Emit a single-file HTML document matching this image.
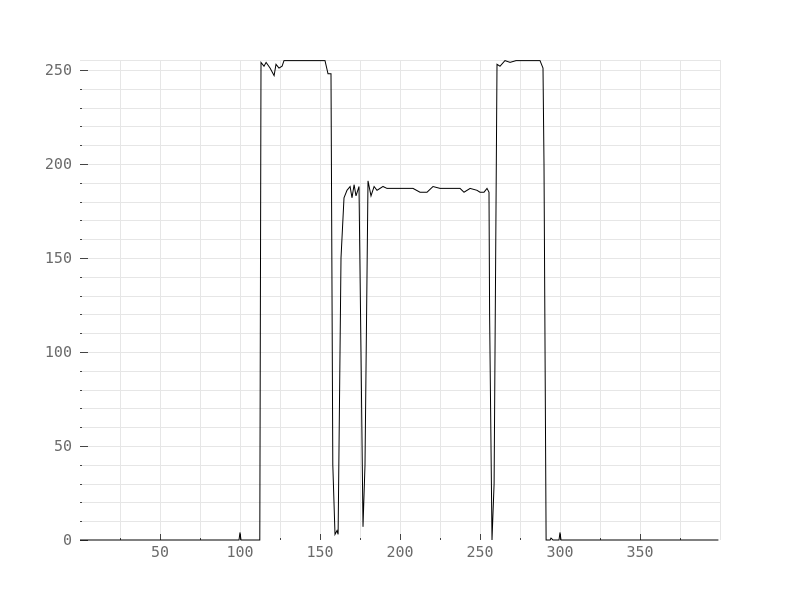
<!DOCTYPE html>
<html><head><meta charset="utf-8"><style>
body{margin:0;background:#fff}
svg text{font-family:"DejaVu Sans Mono","Liberation Mono",monospace;font-size:15px;fill:#6a6a6a}
</style></head><body>
<svg id="chart" width="800" height="600" xmlns="http://www.w3.org/2000/svg">
<g id="grid"></g>
<g id="axes"></g>
<path id="line" fill="none" stroke="#000" stroke-width="1"/>
</svg>
<script>
const xs=[0,99.4,100,100.6,112.4,113.1,115,116.3,118.8,121.3,122.5,124.4,126.3,127.5,153.1,155,156.9,158,159.4,160.6,161.3,163.1,165,166.9,168.8,170,171.3,172.5,174.4,175.6,176.9,178.1,180,181.9,183.8,185.6,189.4,191.9,208.1,212.5,216.9,220.6,225,237.5,240,243.8,248.1,250,252.5,254.4,255.6,256,257.5,258.8,260.6,262.5,265.6,268.8,272.5,287.5,289.4,290,291.3,293.8,294.4,295.6,299.4,300,300.6,399];
const ys=[0,0,4,0,0,254,252,254,251,247,253,251,252,255,255,248,248,40,3,5,3,150,182,186,188,182,189,183,188,100,7,40,191,183,188,186,188,187,187,185,185,188,187,187,185,187,186,185,185,187,185,120,0,30,253,252,255,254,255,255,251,200,0,0,1,0,0,4,0,0];
const xTicks=[50,100,150,200,250,300,350];
const yTicks=[0,50,100,150,200,250];
const X0=80,X1=720,Y0=540,Y1=60,XMAX=400,YMAX=255.3;
const sx=v=>X0+v*(X1-X0)/XMAX, sy=v=>Y0-v*(Y0-Y1)/YMAX;
const NS="http://www.w3.org/2000/svg";
const grid=document.getElementById('grid'),axes=document.getElementById('axes');
function ln(p,x1,y1,x2,y2,c){const l=document.createElementNS(NS,'line');l.setAttribute('x1',x1);l.setAttribute('y1',y1);l.setAttribute('x2',x2);l.setAttribute('y2',y2);l.setAttribute('stroke',c);p.appendChild(l);return l;}
for(let v=25;v<=400;v+=25){const l=ln(grid,sx(v)+.5,Y1,sx(v)+.5,Y0,'#e6e6e6');

}
for(let v=10;v<=250;v+=10){const l=ln(grid,X0,Math.round(sy(v))+.5,X1,Math.round(sy(v))+.5,'#e6e6e6');

}
{const l=ln(grid,X0,Y1+.5,X1,Y1+.5,'#e6e6e6');

}
for(let v=0;v<=250;v+=10){const maj=v%50===0;const y=Math.round(sy(v))+.5;const l=ln(axes,X0,y,X0+(maj?8:2),y,'#444');

}
yTicks.forEach(v=>{const t=document.createElementNS(NS,'text');t.setAttribute('x',72);t.setAttribute('y',sy(v)+5);t.setAttribute('text-anchor','end');t.textContent=v;


axes.appendChild(t);});
for(let v=25;v<400;v+=25){const maj=v%50===0;const x=Math.round(sx(v))+.5;const l=ln(axes,x,Y0,x,Y0-(maj?6:2),'#444');

}
xTicks.forEach(v=>{const t=document.createElementNS(NS,'text');t.setAttribute('x',sx(v));t.setAttribute('y',557);t.setAttribute('text-anchor','middle');t.textContent=v;


axes.appendChild(t);});
document.getElementById('line').setAttribute('d',xs.map((x,i)=>(i?'L':'M')+sx(x).toFixed(1)+','+sy(ys[i]).toFixed(1)).join(''));
</script>
</body></html>
